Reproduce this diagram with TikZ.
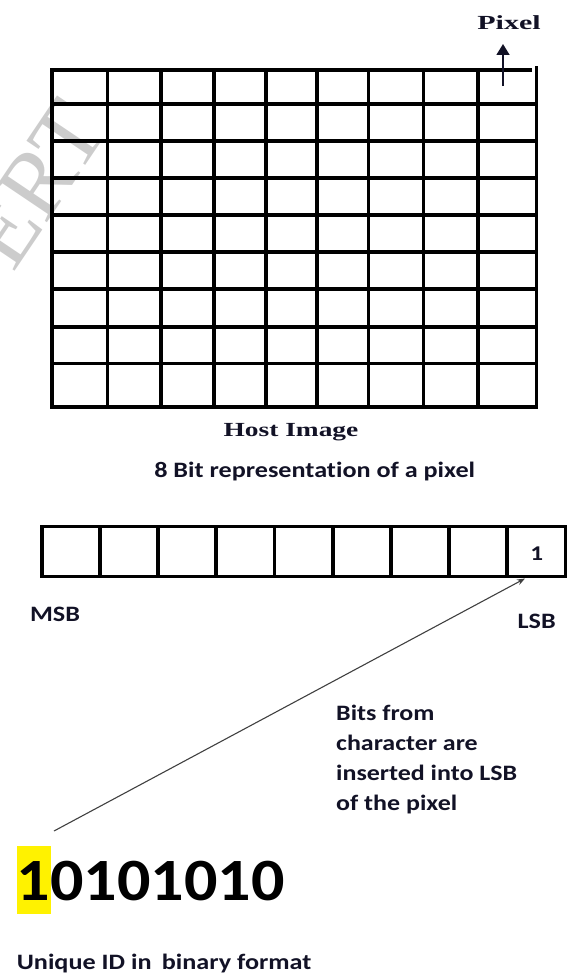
\documentclass[tikz,border=0pt]{standalone}
\usepackage{fontspec}
\usepackage{graphicx}
\setmainfont{Liberation Serif}
\newfontfamily\calib[Ligatures={NoCommon}]{Carlito}
\usetikzlibrary{arrows.meta}
\definecolor{ink}{RGB}{18,18,38}
\newcommand\hstretch[2]{\scalebox{#1}[1]{#2}}
\begin{document}
\begin{tikzpicture}[x=1pt,y=-1pt,
  gridline/.style={line width=3.2pt, black, line cap=rect},
  bitbox/.style={draw, line width=3.8pt, minimum width=58.2pt, minimum height=50pt, inner sep=0pt, outer sep=0pt},
  seriflbl/.style={font=\fontsize{20}{24}\selectfont\bfseries, inner sep=0pt, text=ink},
  sanslbl/.style={font=\calib\fontsize{22}{26}\selectfont\bfseries, inner sep=0pt, text=ink},
  watermark/.style={font=\fontsize{95}{100}\selectfont, text=black!20, inner sep=0pt},
]
\useasboundingbox (0,0) rectangle (567,974);

% faint watermark fragment
\begin{scope}
\clip (0,0) rectangle (567,974);
\node[watermark, rotate=56] (wm) at (36,184) {ERT};
\end{scope}

% host image grid (9 x 9)
\foreach \yy in {104,141,178,215,252,289,327,363.5,407}
  \draw[gridline] (52,\yy) -- (536.5,\yy);
\draw[gridline] (52,70) -- (530,70);
\foreach \xx in {52,107.5,161,214,266,317,368.5,423.3,478}
  \draw[gridline] (\xx,70) -- (\xx,407);
\draw[gridline] (536.5,68) -- (536.5,407);

% pixel label and arrow
\node[seriflbl, anchor=base] (pixellbl) at (509,30) {\hstretch{1.5}{Pixel}};
\coordinate (pxfrom) at (503,86);
\coordinate (pxto) at (503,44);
\draw[line width=1.6pt, ink, -{Triangle[width=13pt,length=11pt]}] (pxfrom) -- (pxto);

% captions
\node[seriflbl, anchor=base] (hostlbl) at (291,436) {\hstretch{1.37}{Host Image}};
\node[sanslbl, anchor=base] (bitlbl) at (314.7,477) {\hstretch{1.19}{8 Bit representation of a pixel}};

% byte boxes
\foreach \i in {1,...,9}
  \node[bitbox] (b\i) at ({41.7+29.1+(\i-1)*58.2},551.5) {};
\node[font=\calib\fontsize{21}{24}\selectfont\bfseries, text=ink, inner sep=0pt, anchor=base] (one) at (536.7,560) {\hstretch{1.2}{1}};

\node[sanslbl, anchor=base] (msb) at (55,621.7) {\hstretch{1.19}{MSB}};
\node[sanslbl, anchor=base] (lsb) at (536.7,628.3) {\hstretch{1.19}{LSB}};

% explanation
\node[sanslbl, anchor=base west] (n1) at (336,720) {\hstretch{1.18}{Bits from}};
\node[sanslbl, anchor=base west] (n2) at (336,750) {\hstretch{1.18}{character are}};
\node[sanslbl, anchor=base west] (n3) at (336,780) {\hstretch{1.18}{inserted into LSB}};
\node[sanslbl, anchor=base west] (n4) at (336,810) {\hstretch{1.18}{of the pixel}};

% unique ID
\fill[yellow] (16.7,845.7) rectangle (51,914);
\node[font=\calib\fontsize{60}{66}\selectfont\bfseries, text=black, inner sep=0pt, anchor=base west] (idnum) at (16.7,900) {\hstretch{1.1}{10101010}};
\node[sanslbl, anchor=base west] (idlbl) at (16.7,969) {\hstretch{1.19}{Unique ID in\, binary format}};

% connector from ID to LSB
\coordinate (idtail) at (54,831);
\coordinate (lsbtip) at (525,578.5);
\draw[line width=1.1pt, black!75, -{Stealth[length=8pt,width=6pt]}] (idtail) -- (lsbtip);
\end{tikzpicture}
\end{document}
